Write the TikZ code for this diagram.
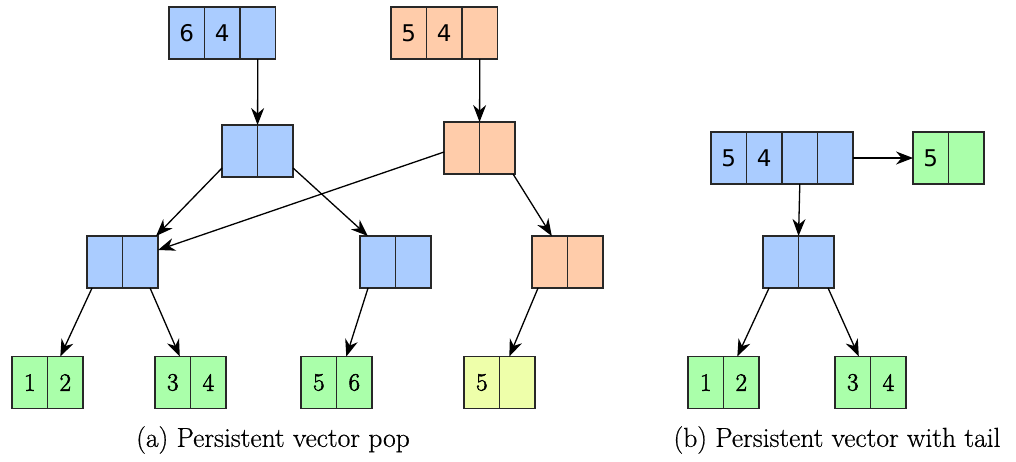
\documentclass[tikz,border=0pt]{standalone}
\usepackage{fontspec}
\newfontfamily\numsans{DejaVu Sans}
\newfontfamily\numserif[FakeBold=2]{Latin Modern Roman}
\newfontfamily\capfont[FakeBold=0.6]{Latin Modern Roman}
\usetikzlibrary{arrows.meta}
\definecolor{cblue}{RGB}{170,204,255}
\definecolor{corange}{RGB}{255,204,170}
\definecolor{cgreen}{RGB}{170,255,170}
\definecolor{cyellow}{RGB}{238,255,170}
\definecolor{cborder}{RGB}{40,40,40}
\begin{document}
\begin{tikzpicture}[x=1pt,y=-1pt,
  cell/.style={draw=cborder, line width=1.4pt, minimum width=35.5pt, minimum height=52pt,
               inner sep=0pt, outer sep=0pt},
  sansnum/.style={font=\numsans\fontsize{23}{23}\selectfont},
  serifnum/.style={font=\numserif\fontsize{25}{25}\selectfont},
  bcell/.style={cell, fill=cblue},
  ocell/.style={cell, fill=corange},
  gcell/.style={cell, fill=cgreen},
  ycell/.style={cell, fill=cyellow},
  link/.style={-{Stealth[length=17pt,width=13pt,inset=5.5pt]}, line width=1.3pt, draw=black},
  caption/.style={font=\capfont\fontsize{27.5}{27.5}\selectfont, inner sep=0pt}
]
\useasboundingbox (0,0) rectangle (1016,461);

% ---- (a) top roots
\node[bcell,sansnum] (TB1) at (186.8,33) {6};
\node[bcell,sansnum] (TB2) at (222.3,33) {4};
\node[bcell] (TB3) at (257.8,33) {};
\node[ocell,sansnum] (TO1) at (408.8,33) {5};
\node[ocell,sansnum] (TO2) at (444.3,33) {4};
\node[ocell] (TO3) at (479.8,33) {};

% ---- (a) level 1
\node[bcell] (MB1) at (239.8,151) {};
\node[bcell] (MB2) at (275.3,151) {};
\node[ocell] (OM1) at (461.8,148) {};
\node[ocell] (OM2) at (497.3,148) {};

% ---- (a) level 2
\node[bcell] (LL1) at (104.8,262) {};
\node[bcell] (LL2) at (140.3,262) {};
\node[bcell] (LR1) at (377.8,262) {};
\node[bcell] (LR2) at (413.3,262) {};
\node[ocell] (LO1) at (549.8,262) {};
\node[ocell] (LO2) at (585.3,262) {};

% ---- (a) leaves
\node[gcell,serifnum] (A1) at (29.8,382.5) {1};
\node[gcell,serifnum] (A2) at (65.3,382.5) {2};
\node[gcell,serifnum] (B1) at (172.8,382.5) {3};
\node[gcell,serifnum] (B2) at (208.3,382.5) {4};
\node[gcell,serifnum] (C1) at (318.8,382.5) {5};
\node[gcell,serifnum] (C2) at (354.3,382.5) {6};
\node[ycell,serifnum] (D1) at (481.8,382.5) {5};
\node[ycell] (D2) at (517.3,382.5) {};

% ---- (a) arrows
\draw[link] (TB3.south) -- (MB1.north east);
\draw[link] (TO3.south) -- (OM1.north east);
\draw[link] ([yshift=9pt]MB1.south west) -- ([xshift=-2pt]LL2.north east);
\draw[link] ([yshift=9pt]MB2.south east) -- ([xshift=-10pt]LR1.north);
\draw[link] ([yshift=-4pt]OM1.west) -- ([yshift=12pt]LL2.east);
\draw[link] ([xshift=-2pt]OM2.south east) -- ([xshift=2pt]LO1.north);
\draw[link] ([xshift=5pt]LL1.south west) -- ([xshift=-5pt]A2.north);
\draw[link] ([xshift=-8pt]LL2.south east) -- ([xshift=7pt]B1.north);
\draw[link] ([xshift=8pt]LR1.south west) -- ([xshift=-8pt]C2.north);
\draw[link] ([xshift=6pt]LO1.south west) -- ([xshift=-8pt]D2.north);

% ---- (b)
\node[bcell,sansnum] (RB1) at (728.8,158) {5};
\node[bcell,sansnum] (RB2) at (764.3,158) {4};
\node[bcell] (RB3) at (799.8,158) {};
\node[bcell] (RB4) at (835.3,158) {};
\node[gcell,sansnum] (RT1) at (930.8,158) {5};
\node[gcell] (RT2) at (966.3,158) {};
\node[bcell] (RM1) at (780.8,262) {};
\node[bcell] (RM2) at (816.3,262) {};
\node[gcell,serifnum] (E1) at (705.8,382.5) {1};
\node[gcell,serifnum] (E2) at (741.3,382.5) {2};
\node[gcell,serifnum] (F1) at (852.8,382.5) {3};
\node[gcell,serifnum] (F2) at (888.3,382.5) {4};

\draw[link] (RB3.south) -- (RM1.north east);
\draw[link] (RB4.east) -- (RT1.west);
\draw[link] ([xshift=6pt]RM1.south west) -- ([xshift=-4pt]E2.north);
\draw[link] ([xshift=-6pt]RM2.south east) -- ([xshift=6pt]F1.north);

% ---- captions
\node[caption] (capa) at (273,440) {(a) Persistent vector pop};
\node[caption] (capb) at (837,440) {(b) Persistent vector with tail};
\end{tikzpicture}
\end{document}
